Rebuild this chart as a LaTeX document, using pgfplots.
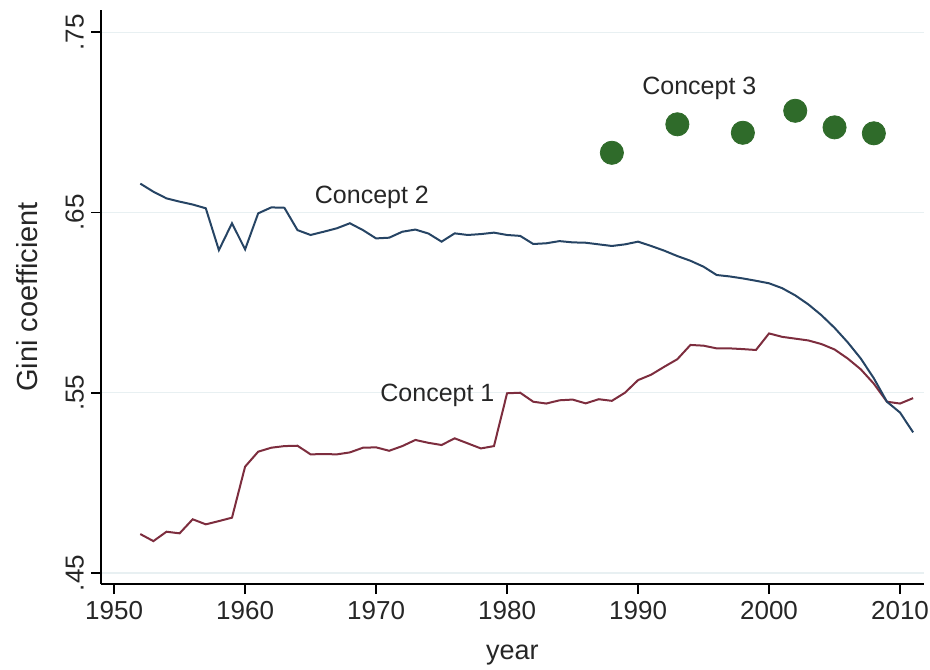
\documentclass[border=0pt]{standalone}
\usepackage{fontspec}
\setmainfont{Liberation Sans}
\usepackage{pgfplots}
\pgfplotsset{compat=1.18}
\definecolor{cone}{RGB}{125,45,62}
\definecolor{ctwo}{RGB}{38,68,100}
\definecolor{cthree}{RGB}{47,107,42}
\definecolor{gridc}{RGB}{232,240,242}

\begin{document}
\begin{tikzpicture}
\begin{axis}[
    scale only axis,
    width=411.3pt, height=287pt,
    xmin=1949, xmax=2011.8,
    ymin=0.4439, ymax=0.7623,
    axis x line*=bottom, axis y line*=left,
    axis line style={line width=0.9pt, black},
    xtick={1950,1960,...,2010},
    ytick={0.45,0.55,0.65,0.75},
    yticklabels={.45,.55,.65,.75},
    tick align=outside,
    major tick length=5pt,
    tick style={line width=0.9pt, black},
    /pgf/number format/1000 sep={},
    /pgf/number format/assume math mode=true,
    ticklabel style={font=\fontsize{13}{15}\selectfont, text=black!85},
    yticklabel style={rotate=90, anchor=south},
    ymajorgrids=true,
    grid style={gridc, line width=0.6pt},
    xlabel={year},
    ylabel={Gini coefficient},
    xlabel style={font=\fontsize{13.5}{16}\selectfont, text=black!85,
        at={(axis description cs:0.5,-0.124)}, anchor=center},
    ylabel style={font=\fontsize{14.5}{17}\selectfont, text=black!85,
        at={(axis description cs:-0.0904,0.5)}, anchor=center},
]
% Concept 1
\addplot[cone, line width=1pt, mark=none] table[x=year, y=gini] {
year gini
1952 0.4716
1953 0.4677
1954 0.4729
1955 0.4720
1956 0.4798
1957 0.4770
1958 0.4788
1959 0.4807
1960 0.5090
1961 0.5173
1962 0.5195
1963 0.5204
1964 0.5206
1965 0.5158
1966 0.5160
1967 0.5158
1968 0.5169
1969 0.5195
1970 0.5197
1971 0.5178
1972 0.5204
1973 0.5238
1974 0.5222
1975 0.5210
1976 0.5247
1977 0.5219
1978 0.5191
1979 0.5204
1980 0.5497
1981 0.5500
1982 0.5450
1983 0.5440
1984 0.5458
1985 0.5462
1986 0.5441
1987 0.5464
1988 0.5455
1989 0.5500
1990 0.5570
1991 0.5600
1992 0.5644
1993 0.5686
1994 0.5765
1995 0.5761
1996 0.5746
1997 0.5746
1998 0.5742
1999 0.5737
2000 0.5829
2001 0.5810
2002 0.5800
2003 0.5790
2004 0.5770
2005 0.5740
2006 0.5690
2007 0.5630
2008 0.5550
2009 0.5450
2010 0.5440
2011 0.5470
};
% Concept 2
\addplot[ctwo, line width=1pt, mark=none] table[x=year, y=gini] {
year gini
1952 0.6660
1953 0.6615
1954 0.6578
1955 0.6560
1956 0.6544
1957 0.6523
1958 0.6291
1959 0.6440
1960 0.6295
1961 0.6495
1962 0.6528
1963 0.6526
1964 0.6402
1965 0.6375
1966 0.6393
1967 0.6412
1968 0.6440
1969 0.6402
1970 0.6356
1971 0.6360
1972 0.6393
1973 0.6405
1974 0.6383
1975 0.6338
1976 0.6384
1977 0.6375
1978 0.6380
1979 0.6388
1980 0.6375
1981 0.6370
1982 0.6325
1983 0.6329
1984 0.6341
1985 0.6334
1986 0.6332
1987 0.6323
1988 0.6314
1989 0.6323
1990 0.6338
1991 0.6314
1992 0.6288
1993 0.6258
1994 0.6232
1995 0.6199
1996 0.6153
1997 0.6145
1998 0.6134
1999 0.6121
2000 0.6107
2001 0.6080
2002 0.6040
2003 0.5990
2004 0.5930
2005 0.5860
2006 0.5780
2007 0.5690
2008 0.5580
2009 0.5450
2010 0.5390
2011 0.5280
};
% Concept 3
\addplot[only marks, mark=*, mark size=5.8pt, mark options={fill=cthree, draw=cthree}] table[x=year, y=gini] {
year gini
1988 0.6831
1993 0.6989
1998 0.6942
2002 0.7064
2005 0.6972
2008 0.6939
};
\node[anchor=west, inner sep=0pt, font=\fontsize{12.5}{15}\selectfont, text=black!85] at (axis cs:1970.3,0.5487) {Concept 1};
\node[anchor=west, inner sep=0pt, font=\fontsize{12.5}{15}\selectfont, text=black!85] at (axis cs:1965.3,0.6585) {Concept 2};
\node[anchor=west, inner sep=0pt, font=\fontsize{12.5}{15}\selectfont, text=black!85] at (axis cs:1990.3,0.7188) {Concept 3};
\end{axis}
\pgfresetboundingbox
\useasboundingbox (-50.5pt,-42.5pt) rectangle (414.5pt,292pt);
\end{tikzpicture}
\end{document}
